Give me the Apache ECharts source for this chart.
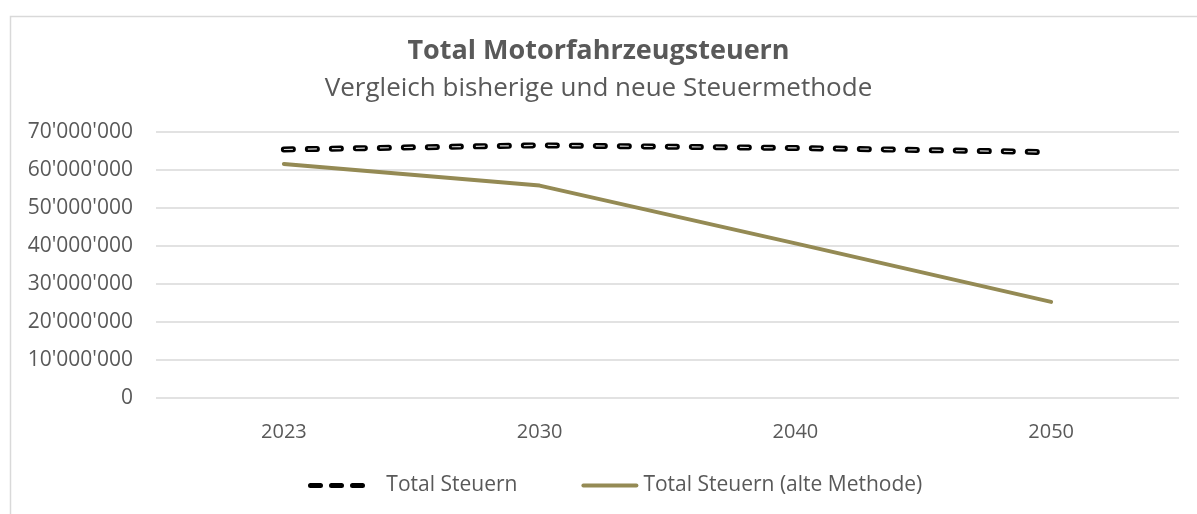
<!DOCTYPE html>
<html>
<head>
<meta charset="utf-8">
<script src="https://cdn.jsdelivr.net/npm/echarts@6/dist/echarts.min.js"></script>
<style>
  html, body { margin: 0; padding: 0; background: #fff; }
  #chart { width: 1197px; height: 514px; }
</style>
</head>
<body>
<div id="chart"></div>
<script>
// Jahre (x-Achse)
var jahre = ['2023', '2030', '2040', '2050']
// neue Methode
var totalSteuern = [65400000, 66500000, 65800000, 64700000]
// alte Methode
var totalSteuernAlt = [61600000, 55900000, 40700000, 25300000]

var chart = echarts.init(document.getElementById('chart'))
var schrift = '"Open Sans", "Noto Sans", sans-serif'

function tausender(v) {
  return String(v).replace(/\B(?=(\d{3})+(?!\d))/g, "'")
}

// Legendensymbole: drei Striche bzw. ein Balken
function strich(x0) {
  return 'M' + (x0 + 2.5) + ',0 h10 a2.5,2.5 0 0 1 0,5 h-10 a2.5,2.5 0 0 1 0,-5 z '
}
var iconGestrichelt = 'path://' + strich(0) + strich(21) + strich(42)
var iconLinie = 'path://M2,0 h53 a2,2 0 0 1 0,4 h-53 a2,2 0 0 1 0,-4 z'

var option = {
  animation: false,
  backgroundColor: '#fff',
  // Rahmen oben/links
  graphic: [
    {
      type: 'rect',
      left: 8,
      top: 14,
      shape: { width: 1400, height: 700 },
      style: { fill: 'none', stroke: '#d9d9d9', lineWidth: 1.5 },
      silent: true,
    },
  ],
  title: [
    {
      text: 'Total Motorfahrzeugsteuern',
      left: 'center',
      top: 33,
      textStyle: { fontFamily: schrift, fontSize: 27, fontWeight: 'bold', color: '#595959' },
    },
    {
      text: 'Vergleich bisherige und neue Steuermethode',
      left: 'center',
      top: 71,
      textStyle: { fontFamily: schrift, fontSize: 26, fontWeight: 'normal', color: '#595959' },
    },
  ],
  legend: {
    bottom: 13,
    left: 303,
    itemGap: 64,
    itemWidth: 57,
    itemHeight: 5,
    textStyle: { fontFamily: schrift, fontSize: 21, color: '#595959' },
    formatter: function (name) {
      // etwas mehr Abstand zwischen Symbol und Text wie im Original
      return name === 'Total Steuern' ? '   ' + name : name
    },
    data: [
      { name: 'Total Steuern', icon: iconGestrichelt },
      { name: 'Total Steuern (alte Methode)', icon: iconLinie },
    ],
  },
  grid: { left: 156, right: 18, top: 132, bottom: 116 },
  xAxis: {
    type: 'category',
    data: jahre,
    boundaryGap: true,
    axisLine: { show: false },
    axisTick: { show: false },
    axisLabel: { fontFamily: schrift, fontSize: 20, color: '#595959', margin: 24 },
  },
  yAxis: {
    type: 'value',
    min: 0,
    max: 70000000,
    interval: 10000000,
    axisLine: { show: false },
    axisTick: { show: false },
    axisLabel: {
      fontFamily: schrift,
      fontSize: 21,
      color: '#595959',
      margin: 23,
      formatter: tausender,
    },
    splitLine: { lineStyle: { color: '#d9d9d9', width: 1.5 } },
  },
  series: [
    {
      name: 'Total Steuern (alte Methode)',
      type: 'line',
      data: totalSteuernAlt,
      symbol: 'none',
      z: 2,
      lineStyle: { color: '#948a54', width: 4, cap: 'round' },
      itemStyle: { color: '#948a54' },
    },
    {
      name: 'Total Steuern',
      type: 'line',
      data: totalSteuern,
      symbol: 'none',
      z: 3,
      lineStyle: { color: '#000', width: 6, type: [9, 15], cap: 'round' },
      itemStyle: { color: '#000' },
    },
    {
      // weisser Kern der Striche
      name: 'kern',
      type: 'line',
      data: totalSteuern,
      symbol: 'none',
      silent: true,
      z: 4,
      lineStyle: { color: '#fff', width: 1.2, type: [9, 15], cap: 'butt', opacity: 0.85 },
    },
  ],
}

chart.setOption(option)
</script>
</body>
</html>
